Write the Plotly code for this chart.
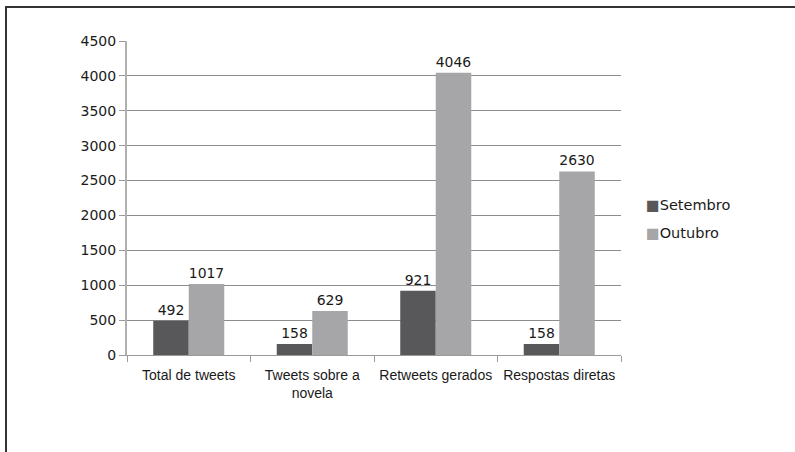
import plotly.graph_objects as go

categories = ["Total de tweets", "Tweets sobre a<br>novela", "Retweets gerados", "Respostas diretas"]
setembro = [492, 158, 921, 158]
outubro = [1017, 629, 4046, 2630]
y_ticks = [0, 500, 1000, 1500, 2000, 2500, 3000, 3500, 4000, 4500]
series_names = ["Setembro", "Outubro"]
series_colors = ["#58585a", "#a6a6a8"]

W, H = 795, 452
L, R, T, B = 127, 174, 41, 97
pw, ph = W - L - R, H - T - B

label_font = "DejaVu Sans"
cat_font = "Liberation Sans Narrow, Liberation Sans, Arial"

fig = go.Figure()
for name, vals, col in zip(series_names, [setembro, outubro], series_colors):
    fig.add_trace(go.Bar(x=categories, y=vals, name=name,
                         marker=dict(color=col, line=dict(width=0)),
                         text=vals, textposition="outside", cliponaxis=False,
                         textfont=dict(size=14, color="#1a1a1a", family=label_font)))

# legend drawn as small squares with labels at the right of the plot
legend_y = [205, 233]
for name, col, py in zip(series_names, series_colors, legend_y):
    fig.add_annotation(xref="paper", yref="paper",
                       x=(644 - L) / pw, y=(T + ph - py) / ph,
                       xanchor="left", yanchor="middle", showarrow=False,
                       text=f"<span style='color:{col}'>■</span>{name}",
                       font=dict(size=14.5, color="#1a1a1a", family=label_font))

# outer frame around the chart
fig.add_shape(type="rect", xref="paper", yref="paper",
              x0=(6 - L) / pw, x1=(W + 10 - L) / pw,
              y0=-(H + 10 - (T + ph)) / ph, y1=1 + (T - 7) / ph,
              line=dict(color="#333333", width=2), fillcolor="rgba(0,0,0,0)", layer="below")

fig.update_layout(
    width=W, height=H,
    margin=dict(l=L, r=R, t=T, b=B, autoexpand=False),
    paper_bgcolor="white", plot_bgcolor="white",
    barmode="group", bargap=0.425, bargroupgap=0,
    showlegend=False,
    font=dict(family=label_font, color="#1a1a1a"),
    xaxis=dict(showline=True, linecolor="#9a9a9a", linewidth=1,
               ticks="outside", tickson="boundaries", ticklen=6, tickcolor="#9a9a9a",
               ticklabelstandoff=7, tickangle=0, automargin=False,
               tickfont=dict(size=14, color="#1a1a1a", family=cat_font),
               showgrid=False),
    yaxis=dict(range=[0, 4500], tickvals=y_ticks, showline=True, linecolor="#b0b0b0", linewidth=2,
               ticks="outside", ticklen=6, tickcolor="#9a9a9a", automargin=False,
               gridcolor="#8c8c8c", gridwidth=1, zeroline=False,
               tickfont=dict(size=14, color="#1a1a1a", family=label_font)),
)

fig.write_html("out.html")
